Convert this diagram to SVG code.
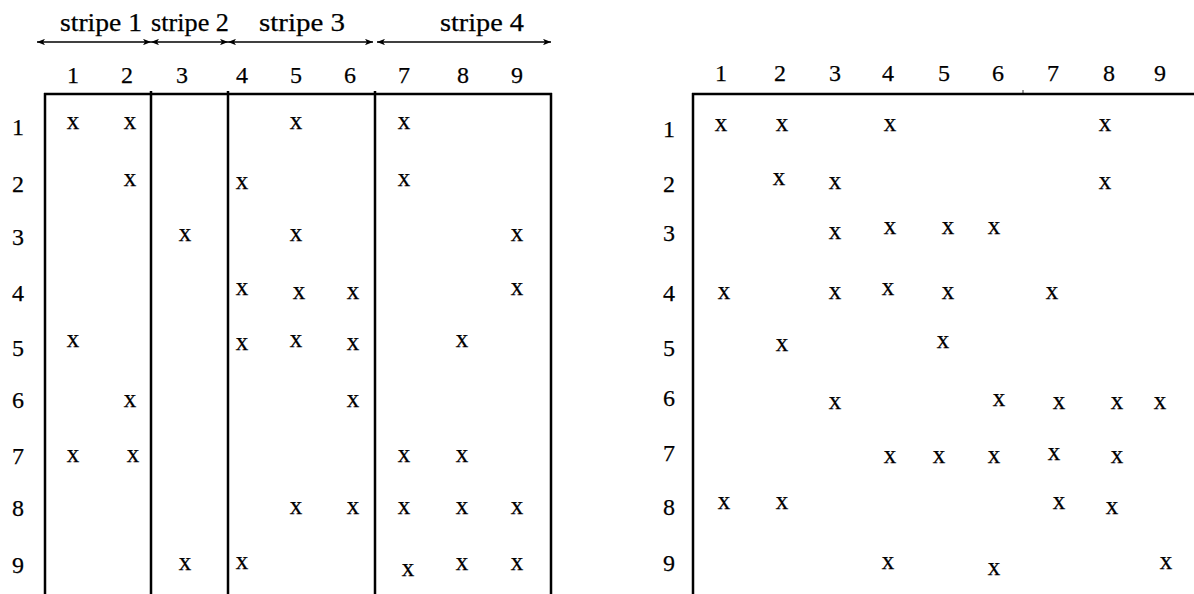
<svg xmlns="http://www.w3.org/2000/svg" width="1194" height="594" viewBox="0 0 1194 594">
<style>
.t{font-family:"Liberation Serif","Times New Roman",serif;font-size:24px;fill:#000;stroke:#000;stroke-width:0.25;text-anchor:middle}
.e text{font-size:25px}
.s{font-family:"Liberation Serif","Times New Roman",serif;font-size:25px;fill:#000;stroke:#000;stroke-width:0.25;text-anchor:middle}
.f{stroke:#000;stroke-width:2.5;fill:none}
.a{stroke:#000;stroke-width:1.5;fill:none;marker-start:url(#ah);marker-end:url(#ah)}
</style>
<defs>
<marker id="ah" viewBox="0 0 10 8" refX="10" refY="4" markerWidth="8" markerHeight="6.4" markerUnits="userSpaceOnUse" orient="auto-start-reverse">
<path d="M0,0 L10,4 L0,8 L2.5,4 Z" fill="#000"/>
</marker>
</defs>
<g id="connectors">
<line class="a" x1="37" y1="42" x2="151" y2="42"/>
<line class="a" x1="151" y1="42" x2="228" y2="42"/>
<line class="a" x1="228" y1="42" x2="373" y2="42"/>
<line class="a" x1="377" y1="42" x2="551" y2="42"/>
</g>
<g id="stripes">
<text class="s" x="101" y="31" textLength="82" lengthAdjust="spacingAndGlyphs">stripe 1</text>
<text class="s" x="190" y="31" textLength="78" lengthAdjust="spacingAndGlyphs">stripe 2</text>
<text class="s" x="302" y="31" textLength="86" lengthAdjust="spacingAndGlyphs">stripe 3</text>
<text class="s" x="482" y="31" textLength="84" lengthAdjust="spacingAndGlyphs">stripe 4</text>
</g>
<g id="left-matrix">
<g id="left-frame">
<line class="f" x1="44" y1="94" x2="552" y2="94"/>
<line class="f" x1="45" y1="93" x2="45" y2="594"/>
<line class="f" x1="151" y1="91" x2="151" y2="594"/>
<line class="f" x1="228" y1="91" x2="228" y2="594"/>
<line class="f" x1="375" y1="91" x2="375" y2="594" stroke-width="3"/>
<line class="f" x1="551" y1="93" x2="551" y2="594"/>
</g>
<g id="left-headers">
<text class="t" x="73" y="83">1</text><text class="t" x="127" y="83">2</text><text class="t" x="182" y="83">3</text>
<text class="t" x="242" y="83">4</text><text class="t" x="296" y="83">5</text><text class="t" x="350" y="83">6</text>
<text class="t" x="404" y="83">7</text><text class="t" x="463" y="83">8</text><text class="t" x="517" y="83">9</text>
</g>
<g id="left-rows">
<text class="t" x="18" y="135">1</text><text class="t" x="18" y="192">2</text><text class="t" x="18" y="245">3</text>
<text class="t" x="18" y="301">4</text><text class="t" x="18" y="356">5</text><text class="t" x="18" y="408">6</text>
<text class="t" x="18" y="464">7</text><text class="t" x="18" y="516">8</text><text class="t" x="18" y="573">9</text>
</g>
<g id="left-entries" class="e">
<text class="t" x="73" y="129">x</text><text class="t" x="130" y="129">x</text><text class="t" x="296" y="129">x</text><text class="t" x="404" y="129">x</text>
<text class="t" x="130" y="186">x</text><text class="t" x="242" y="189">x</text><text class="t" x="404" y="186">x</text>
<text class="t" x="185" y="241">x</text><text class="t" x="296" y="241">x</text><text class="t" x="517" y="241">x</text>
<text class="t" x="242" y="295">x</text><text class="t" x="299" y="299">x</text><text class="t" x="353" y="299">x</text><text class="t" x="517" y="295">x</text>
<text class="t" x="73" y="347">x</text><text class="t" x="242" y="350">x</text><text class="t" x="296" y="347">x</text><text class="t" x="353" y="350">x</text><text class="t" x="462" y="347">x</text>
<text class="t" x="130" y="407">x</text><text class="t" x="353" y="407">x</text>
<text class="t" x="73" y="462">x</text><text class="t" x="133" y="462">x</text><text class="t" x="404" y="462">x</text><text class="t" x="462" y="462">x</text>
<text class="t" x="296" y="514">x</text><text class="t" x="353" y="514">x</text><text class="t" x="404" y="514">x</text><text class="t" x="462" y="514">x</text><text class="t" x="517" y="514">x</text>
<text class="t" x="185" y="570">x</text><text class="t" x="242" y="569">x</text><text class="t" x="408" y="576">x</text><text class="t" x="462" y="570">x</text><text class="t" x="517" y="570">x</text>
</g>
</g>
<g id="right-matrix">
<g id="right-frame">
<line class="f" x1="692" y1="94" x2="1194" y2="94"/>
<line class="f" x1="693" y1="93" x2="693" y2="594"/>
<line x1="1023" y1="90" x2="1023" y2="94" stroke="#000" stroke-width="0.8"/>
</g>
<g id="right-headers">
<text class="t" x="721" y="81">1</text><text class="t" x="780" y="81">2</text><text class="t" x="835" y="81">3</text>
<text class="t" x="888" y="81">4</text><text class="t" x="944" y="81">5</text><text class="t" x="998" y="81">6</text>
<text class="t" x="1053" y="81">7</text><text class="t" x="1109" y="81">8</text><text class="t" x="1160" y="81">9</text>
</g>
<g id="right-rows">
<text class="t" x="669" y="137">1</text><text class="t" x="669" y="192">2</text><text class="t" x="669" y="241">3</text>
<text class="t" x="669" y="301">4</text><text class="t" x="669" y="356">5</text><text class="t" x="669" y="406">6</text>
<text class="t" x="669" y="461">7</text><text class="t" x="669" y="515">8</text><text class="t" x="669" y="571">9</text>
</g>
<g id="right-entries" class="e">
<text class="t" x="721" y="131">x</text><text class="t" x="782" y="131">x</text><text class="t" x="890" y="131">x</text><text class="t" x="1105" y="131">x</text>
<text class="t" x="779" y="185">x</text><text class="t" x="835" y="189">x</text><text class="t" x="1105" y="189">x</text>
<text class="t" x="835" y="239">x</text><text class="t" x="890" y="234">x</text><text class="t" x="948" y="234">x</text><text class="t" x="994" y="234">x</text>
<text class="t" x="724" y="299">x</text><text class="t" x="835" y="299">x</text><text class="t" x="888" y="295">x</text><text class="t" x="948" y="299">x</text><text class="t" x="1052" y="299">x</text>
<text class="t" x="782" y="351">x</text><text class="t" x="943" y="348">x</text>
<text class="t" x="835" y="409">x</text><text class="t" x="999" y="406">x</text><text class="t" x="1059" y="409">x</text><text class="t" x="1117" y="409">x</text><text class="t" x="1160" y="409">x</text>
<text class="t" x="890" y="463">x</text><text class="t" x="939" y="463">x</text><text class="t" x="994" y="463">x</text><text class="t" x="1054" y="460">x</text><text class="t" x="1117" y="463">x</text>
<text class="t" x="724" y="509">x</text><text class="t" x="782" y="509">x</text><text class="t" x="1059" y="509">x</text><text class="t" x="1112" y="514">x</text>
<text class="t" x="888" y="569">x</text><text class="t" x="994" y="575">x</text><text class="t" x="1166" y="569">x</text>
</g>
</g>
</svg>
